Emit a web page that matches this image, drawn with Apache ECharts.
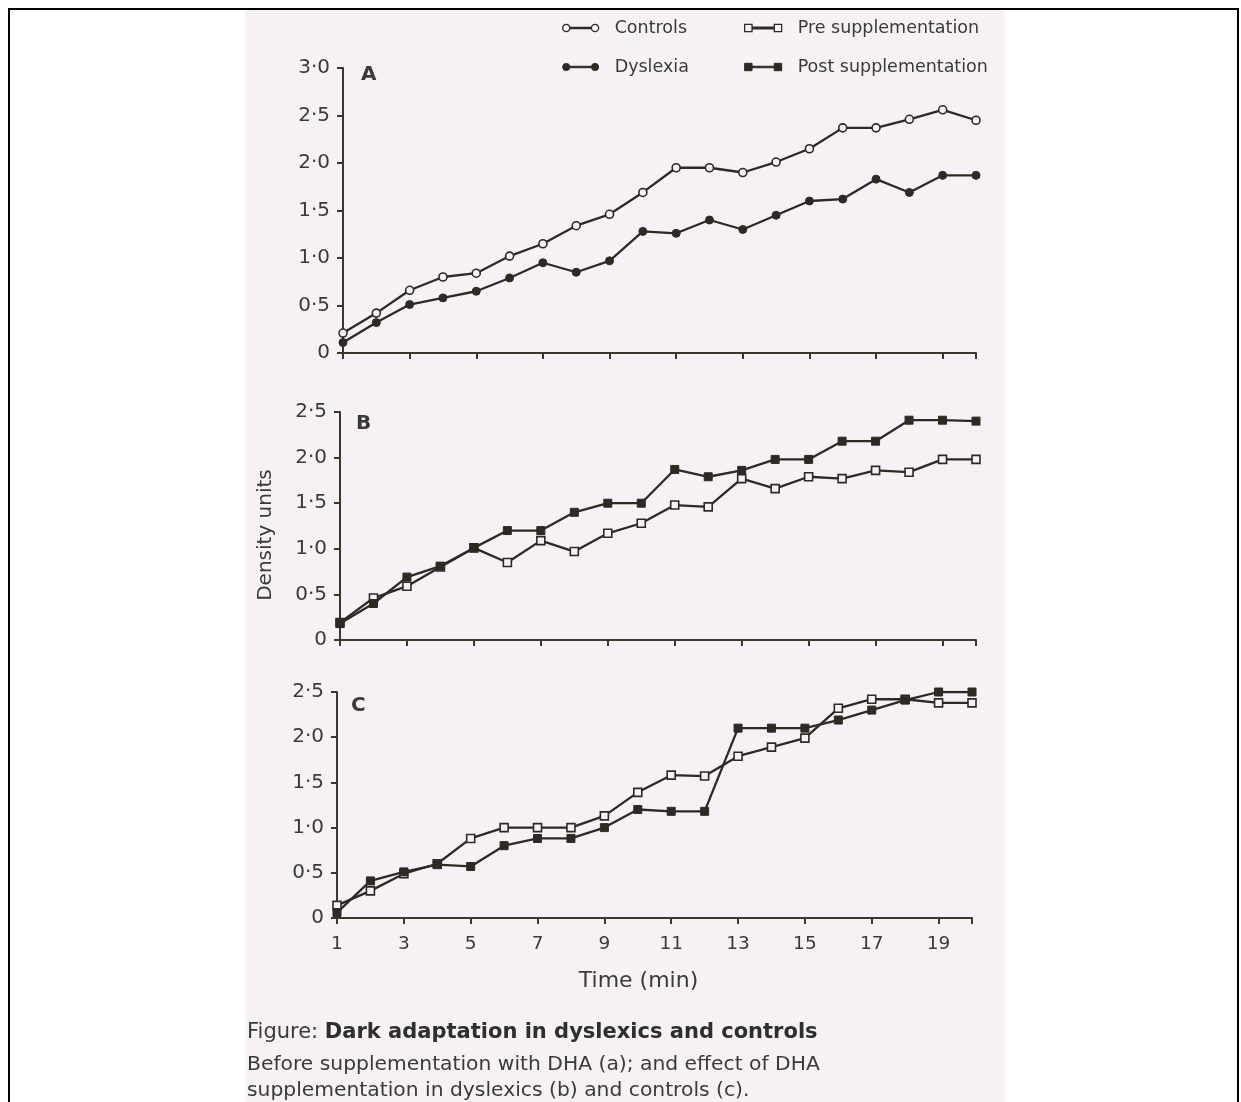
<!DOCTYPE html>
<html><head><meta charset="utf-8">
<script src="https://cdn.jsdelivr.net/npm/echarts@6/dist/echarts.min.js"></script>
<style>
html,body{margin:0;padding:0;background:#fff;width:1241px;height:1102px;overflow:hidden}
#frame{position:absolute;left:8px;top:8px;width:1231px;height:1102px;border-top:2px solid #000;border-left:2px solid #000;border-right:2px solid #000;box-sizing:border-box}
#scan{position:absolute;left:245px;top:10px;width:760px;height:1092px;background:#f5f1f5}
#chart{position:absolute;left:0;top:0;width:1241px;height:1102px}
</style></head>
<body>
<div id="frame"></div>
<div id="scan"></div>
<div id="chart"></div>
<script>
// ---- data ----
const minutes = [1,2,3,4,5,6,7,8,9,10,11,12,13,14,15,16,17,18,19,20];
const controlsA = [0.21,0.42,0.66,0.80,0.84,1.02,1.15,1.34,1.46,1.69,1.95,1.95,1.90,2.01,2.15,2.37,2.37,2.46,2.56,2.45];
const dyslexiaA = [0.11,0.32,0.51,0.58,0.65,0.79,0.95,0.85,0.97,1.28,1.26,1.40,1.30,1.45,1.60,1.62,1.83,1.69,1.87,1.87];
const preB  = [0.19,0.46,0.59,0.80,1.01,0.85,1.09,0.97,1.17,1.28,1.48,1.46,1.77,1.66,1.79,1.77,1.86,1.84,1.98,1.98];
const postB = [0.18,0.40,0.69,0.81,1.01,1.20,1.20,1.40,1.50,1.50,1.87,1.79,1.86,1.98,1.98,2.18,2.18,2.41,2.41,2.40];
const preC  = [0.14,0.30,0.49,0.60,0.88,1.00,1.00,1.00,1.13,1.39,1.58,1.57,1.79,1.89,1.99,2.32,2.42,2.42,2.38,2.38];
const postC = [0.06,0.41,0.51,0.59,0.57,0.80,0.88,0.88,1.00,1.20,1.18,1.18,2.10,2.10,2.10,2.19,2.30,2.41,2.50,2.50];
const xTickValues  = [1,3,5,7,9,11,13,15,17,19,20];
const xLabelValues = [1,3,5,7,9,11,13,15,17,19];

// ---- styles ----
const INK = '#2c2a24';
const AXIS = '#3b372c';
const TXT = '#3a3a3a';
const BG = '#f5f1f5';
const FONT = 'DejaVu Sans';

const pairs = arr => minutes.map((m, i) => [m, arr[i]]);
const fmtY = v => v === 0 ? '0' : v.toFixed(1).replace('.', '\u00B7');

function xAxis(idx, withLabels) {
  const ax = {
    type: 'value', gridIndex: idx, min: 1, max: 20,
    axisLine: { show: true, onZero: false, lineStyle: { color: AXIS, width: 2 } },
    axisTick: { show: true, length: 6, customValues: xTickValues, lineStyle: { color: AXIS, width: 2 } },
    axisLabel: { show: withLabels, customValues: xLabelValues, margin: 17, color: TXT, fontSize: 18.5, fontFamily: FONT },
    splitLine: { show: false }
  };
  if (withLabels) {
    ax.name = 'Time (min)'; ax.nameLocation = 'middle'; ax.nameGap = 52;
    ax.nameTextStyle = { color: TXT, fontSize: 22, fontFamily: FONT, padding: [0, 32, 0, 0] };
  }
  return ax;
}
function yAxis(idx, max, name) {
  const ax = {
    type: 'value', gridIndex: idx, min: 0, max: max, interval: 0.5,
    axisLine: { show: true, lineStyle: { color: AXIS, width: 2 } },
    axisTick: { show: true, length: 6, lineStyle: { color: AXIS, width: 2 } },
    axisLabel: { formatter: fmtY, margin: 13, color: TXT, fontSize: 20, fontFamily: FONT },
    splitLine: { show: false }
  };
  if (name) {
    ax.name = name; ax.nameLocation = 'middle'; ax.nameGap = 64; ax.nameRotate = 90;
    ax.nameTextStyle = { color: TXT, fontSize: 20, fontFamily: FONT, padding: [0, 18, 0, 0] };
  }
  return ax;
}
function line(name, idx, arr, symbol, open) {
  return {
    name: name, type: 'line', xAxisIndex: idx, yAxisIndex: idx,
    data: pairs(arr), symbol: symbol, symbolSize: 8, showSymbol: true,
    lineStyle: { color: INK, width: 2.3 },
    itemStyle: open ? { color: BG, borderColor: INK, borderWidth: 1.6 } : { color: INK, borderColor: INK, borderWidth: 1 },
    z: open ? 2 : 3
  };
}

const circIcon = 'path://M0.5,4a3.5,3.5 0 1,0 7,0a3.5,3.5 0 1,0 -7,0ZM7.5,3.3H28.5V4.7H7.5ZM28.5,4a3.5,3.5 0 1,0 7,0a3.5,3.5 0 1,0 -7,0Z';
const sqIcon = 'path://M0.5,0.5H7.5V7.5H0.5ZM7.5,3.3H28.5V4.7H7.5ZM28.5,0.5H35.5V7.5H28.5Z';
const openStyle = { color: BG, borderColor: INK, borderWidth: 1.3 };
const fillStyle = { color: INK, borderColor: INK, borderWidth: 1 };
const legendText = { color: TXT, fontSize: 17.5, fontFamily: FONT, padding: [0, 0, 0, 11], lineHeight: 20 };
const letterStyle = { fontSize: 20, fontWeight: 'bold', color: TXT, fontFamily: FONT };

const option = {
  animation: false,
  backgroundColor: 'transparent',
  textStyle: { fontFamily: FONT },
  title: [
    { text: 'A', left: 361, top: 65, padding: 0, textStyle: letterStyle },
    { text: 'B', left: 356, top: 414, padding: 0, textStyle: letterStyle },
    { text: 'C', left: 351, top: 696, padding: 0, textStyle: letterStyle },
    {
      text: '{n|Figure: }{b|Dark adaptation in dyslexics and controls}',
      subtext: 'Before supplementation with DHA (a); and effect of DHA\nsupplementation in dyslexics (b) and controls (c).',
      left: 247, top: 1021, itemGap: 10, padding: 0,
      textStyle: {
        fontWeight: 'normal',
        rich: {
          n: { fontSize: 21, color: TXT, fontWeight: 'normal', fontFamily: FONT, lineHeight: 24 },
          b: { fontSize: 21, color: '#2e2e2e', fontWeight: 'bold', fontFamily: FONT, lineHeight: 24 }
        }
      },
      subtextStyle: { fontSize: 20.3, color: TXT, fontFamily: FONT, lineHeight: 26 }
    }
  ],
  legend: [
    {
      orient: 'vertical', left: 562, top: 18, padding: 0, itemWidth: 36, itemHeight: 8, itemGap: 19,
      textStyle: legendText, selectedMode: false,
      data: [
        { name: 'Controls', icon: circIcon, itemStyle: openStyle },
        { name: 'Dyslexia', icon: circIcon, itemStyle: fillStyle }
      ]
    },
    {
      orient: 'vertical', left: 744, top: 18, padding: 0, itemWidth: 37, itemHeight: 8, itemGap: 19,
      textStyle: legendText, selectedMode: false,
      data: [
        { name: 'Pre supplementation', icon: sqIcon, itemStyle: openStyle },
        { name: 'Post supplementation', icon: sqIcon, itemStyle: fillStyle }
      ]
    }
  ],
  grid: [
    { left: 343, top: 68, width: 633, height: 285 },
    { left: 340, top: 412, width: 636, height: 228 },
    { left: 337, top: 692, width: 635, height: 226 }
  ],
  xAxis: [xAxis(0, false), xAxis(1, false), xAxis(2, true)],
  yAxis: [yAxis(0, 3, null), yAxis(1, 2.5, 'Density units'), yAxis(2, 2.5, null)],
  series: [
    line('Controls', 0, controlsA, 'circle', true),
    line('Dyslexia', 0, dyslexiaA, 'circle', false),
    line('Pre supplementation', 1, preB, 'rect', true),
    line('Post supplementation', 1, postB, 'rect', false),
    line('Pre supplementation', 2, preC, 'rect', true),
    line('Post supplementation', 2, postC, 'rect', false)
  ]
};
const chart = echarts.init(document.getElementById('chart'), null, { renderer: 'canvas' });
chart.setOption(option);
</script>
</body></html>
